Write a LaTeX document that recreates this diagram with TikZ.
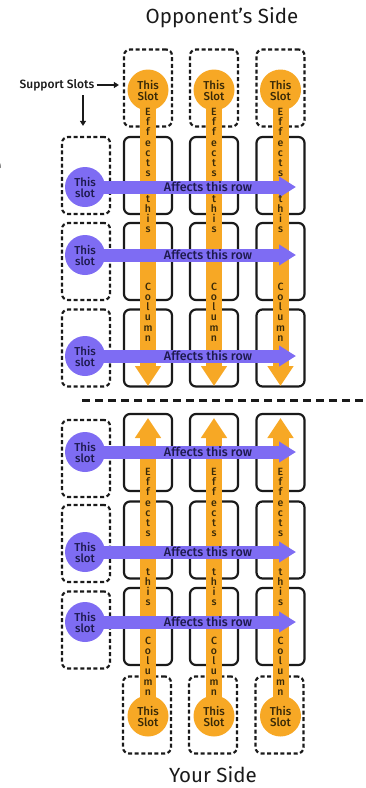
\documentclass[tikz,border=0pt]{standalone}
\usepackage{fontspec}
\IfFontExistsTF{Fira Sans Medium}
  {\setmainfont{Fira Sans Medium}}
  {\setmainfont{Fira Sans}}
\newfontfamily\titlefont{Fira Sans}
\usetikzlibrary{arrows.meta}
\pgfdeclarelayer{boxes}
\pgfdeclarelayer{obars}
\pgfdeclarelayer{pbars}
\pgfsetlayers{boxes,obars,pbars,main}
\definecolor{slotorange}{HTML}{F7A825}
\definecolor{rowpurple}{HTML}{7E6CF3}
\definecolor{orangetext}{HTML}{3A2A08}
\definecolor{purpletext}{HTML}{1E1A4E}
\definecolor{inkdark}{HTML}{1A1A1A}
\begin{document}
\begin{tikzpicture}[x=1pt,y=-1pt,
  cardslot/.style={draw=inkdark, line width=2.2pt, rounded corners=6pt,
    minimum width=48pt, minimum height=77pt, inner sep=0pt},
  suppslot/.style={cardslot, dash pattern=on 4pt off 2.6pt},
  ocirc/.style={circle, fill=slotorange, minimum size=41pt, inner sep=0pt,
    align=center, text=orangetext, font=\fontsize{11.5}{11}\selectfont},
  pcirc/.style={circle, fill=rowpurple, minimum size=40pt, inner sep=0pt,
    align=center, text=purpletext, font=\fontsize{11.5}{11}\selectfont},
  obar/.style={draw=slotorange, line width=16pt, -{Triangle[width=25pt,length=20pt]}},
  pbar/.style={draw=rowpurple, line width=13pt, -{Triangle[width=20pt,length=17pt]}},
  rowtext/.style={text=purpletext, inner sep=0pt, font=\fontsize{12.5}{14}\selectfont},
  vtext/.style={align=center, inner sep=0pt, text=orangetext,
    font=\fontsize{10.5}{10.2}\selectfont},
  sidetitle/.style={text=inkdark, inner sep=0pt, font=\titlefont\fontsize{20.5}{24}\selectfont},
  pointer/.style={draw=inkdark, line width=1.4pt, -{Triangle[width=6pt,length=5pt]}},
  sepline/.style={draw=inkdark, line width=3pt, dash pattern=on 8pt off 5pt}
]
\useasboundingbox (0,0) rectangle (365,788);

% letter cut off at the left edge
\begin{scope}
  \clip (0,0) rectangle (365,788);
  \node[text=inkdark, inner sep=0pt, font=\titlefont\fontsize{30}{30}\selectfont] (edgeletter) at (-6,168) {e};
\end{scope}

% side titles
\node[sidetitle] (oppside) at (222,18) {Opponent’s Side};
\node[sidetitle] (yourside) at (213,775) {Your Side};

% card slots and support slots
\begin{pgfonlayer}{boxes}
\foreach \c/\x in {1/148,2/214,3/280.5}{
  \node[suppslot] (ts\c) at (\x,88) {};
  \node[suppslot] (bs\c) at (\x-1,715) {};
  \foreach \r/\y in {1/175.5,2/261.5,3/348}{
    \node[cardslot] (tf\c\r) at (\x,\y) {};
  }
  \foreach \r/\y in {1/452.5,2/540,3/626.5}{
    \node[cardslot] (bf\c\r) at (\x,\y) {};
  }
}
\foreach \r/\y in {1/175.5,2/261.5,3/348}{
  \node[suppslot] (tl\r) at (86,\y) {};
}
\foreach \r/\y in {1/458.5,2/543.5,3/630}{
  \node[suppslot] (bl\r) at (86,\y) {};
}
\end{pgfonlayer}

% divider between the two sides
\coordinate (sepL) at (82,400);
\coordinate (sepR) at (368,400);
\draw[sepline] (sepL) -- (sepR);

% support slot pointer
\node[text=inkdark, inner sep=0pt, font=\fontsize{12}{13}\selectfont] (suplab) at (57,85) {Support Slots};
\coordinate (downstart) at (83,95);
\draw[pointer] (suplab.east) ++(2,0) -- (suplab.east -| ts1.west) [shorten >=4pt];
\draw[pointer, shorten >=10pt] (downstart) -- (downstart |- tl1.north);

% column effects (orange)
\foreach \c/\x in {1/148,2/214,3/280.5}{
  \node[ocirc] (to\c) at (\x,90) {This\\Slot};
  \coordinate (tt\c) at (\x,386);
  \node[ocirc] (bo\c) at (\x,716) {This\\Slot};
  \coordinate (bt\c) at (\x,418);
  \node[vtext] (tva\c) at (\x,142.5) {E\\f\\f\\e\\c\\t\\s};
  \node[vtext] (tvb\c) at (\x,214) {t\\h\\i\\s};
  \node[vtext] (tvc\c) at (\x,312) {C\\o\\l\\u\\m\\n};
  \node[vtext] (bva\c) at (\x,502.5) {E\\f\\f\\e\\c\\t\\s};
  \node[vtext] (bvb\c) at (\x,587) {t\\h\\i\\s};
  \node[vtext] (bvc\c) at (\x,666) {C\\o\\l\\u\\m\\n};
}
\begin{pgfonlayer}{obars}
\foreach \c in {1,2,3}{
  \draw[obar] (to\c.center) -- (tt\c);
  \draw[obar] (bo\c.center) -- (bt\c);
}
\end{pgfonlayer}

% row effects (purple)
\foreach \r/\y in {1/187,2/255,3/356,4/452,5/552,6/622}{
  \node[pcirc] (pc\r) at (85,\y) {This\\slot};
  \coordinate (pt\r) at (296,\y);
  \node[rowtext] (rl\r) at (208,\y) {Affects this row};
}
\begin{pgfonlayer}{pbars}
\foreach \r in {1,...,6}{
  \draw[pbar] (pc\r.center) -- (pt\r);
}
\end{pgfonlayer}
\end{tikzpicture}
\end{document}
